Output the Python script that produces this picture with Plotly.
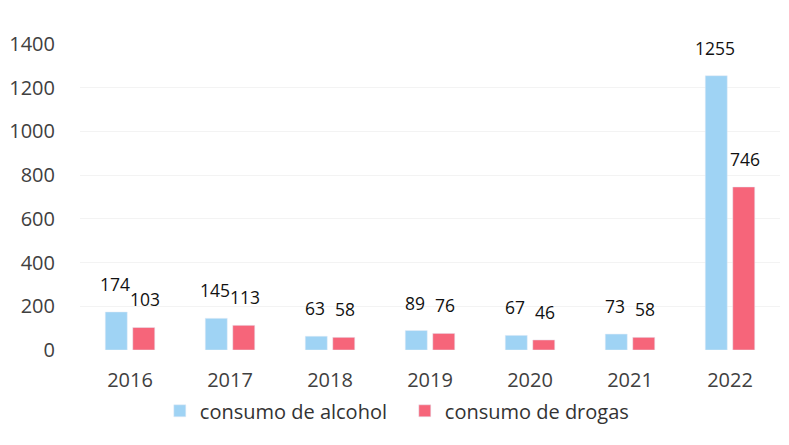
import plotly.graph_objects as go

years = ["2016", "2017", "2018", "2019", "2020", "2021", "2022"]
alcohol = [174, 145, 63, 89, 67, 73, 1255]
drogas = [103, 113, 58, 76, 46, 58, 746]

fig = go.Figure()
fig.add_trace(go.Bar(x=years, y=alcohol, name="consumo de alcohol", marker_color="#9fd3f4"))
fig.add_trace(go.Bar(x=years, y=drogas, name="consumo de drogas", marker_color="#f6657a"))

label_font = dict(family="Open Sans", size=17.5, color="#111111")
for series, shift in ((alcohol, -15), (drogas, 15)):
    for idx, v in enumerate(series):
        # category index position on the category axis
        fig.add_annotation(x=idx, y=v, text=str(v), showarrow=False,
                           xref="x", yref="y", yanchor="bottom", xanchor="center",
                           xshift=shift, yshift=15, font=label_font, borderpad=0)

fig.update_layout(
    width=789, height=445,
    margin=dict(l=72, r=17, t=36, b=103, autoexpand=False),
    paper_bgcolor="white", plot_bgcolor="white",
    font=dict(family="Open Sans", size=20, color="#404040"),
    barmode="group", bargap=0.45, bargroupgap=0.2,
    showlegend=True,
    legend=dict(orientation="h", x=0.114, xanchor="left", y=-0.135, yanchor="top",
                bgcolor="rgba(0,0,0,0)",
                font=dict(size=20, color="#333333"), itemwidth=30,
                entrywidth=200, traceorder="normal"),
)
fig.update_yaxes(range=[0, 1400], dtick=200, showgrid=True, gridcolor="#f3f3f3",
                 zeroline=False, showline=False, ticks="", ticklabelstandoff=24,
                 tickfont=dict(size=20, color="#404040"))
fig.update_xaxes(type="category", categoryorder="array", categoryarray=years,
                 range=[-0.5, len(years) - 0.5], showline=False, ticks="",
                 tickfont=dict(size=20, color="#404040"), ticklabelstandoff=16)

fig.write_html("out.html")
